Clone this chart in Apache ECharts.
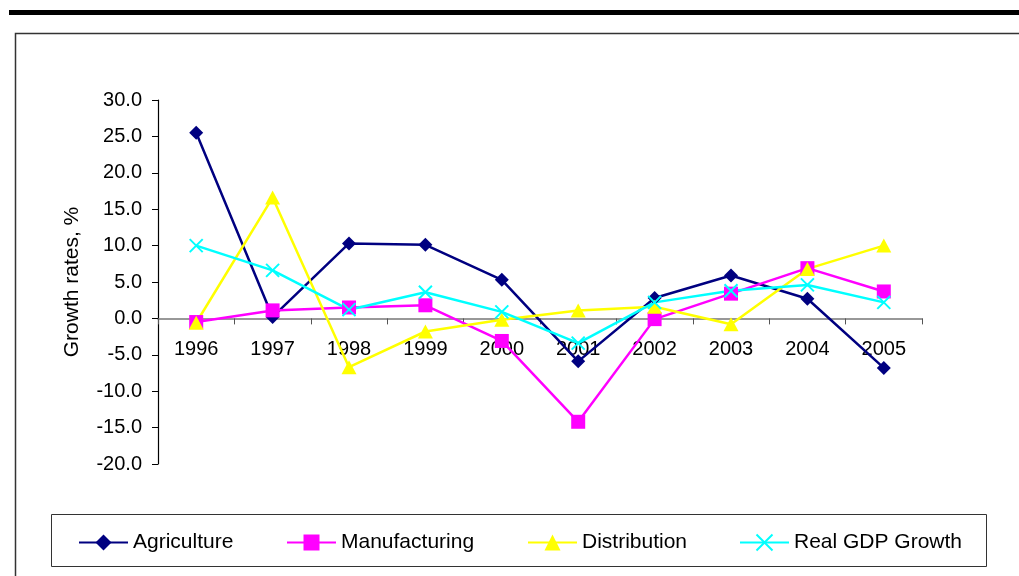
<!DOCTYPE html>
<html>
<head>
<meta charset="utf-8">
<title>Growth rates</title>
<script src="https://cdn.jsdelivr.net/npm/echarts@6/dist/echarts.min.js"></script>
<style>
  html, body { margin: 0; padding: 0; background: #fff; }
  #chart { width: 1019px; height: 576px; }
</style>
</head>
<body>
<div id="chart"></div>
<script>
var years = ['1996', '1997', '1998', '1999', '2000', '2001', '2002', '2003', '2004', '2005']
var agriculture = [25.5, 0.2, 10.3, 10.1, 5.3, -5.9, 2.8, 5.9, 2.7, -6.8]
var manufacturing = [-0.5, 1.1, 1.5, 1.8, -3.1, -14.2, -0.1, 3.4, 6.9, 3.7]
var distribution = [-0.6, 16.6, -6.7, -1.8, -0.2, 1.1, 1.6, -0.8, 6.8, 10.0]
var realGdp = [10.0, 6.6, 1.2, 3.6, 0.9, -3.4, 2.2, 3.8, 4.6, 2.2]

var FONT = "'Liberation Sans', Arial, sans-serif"
var crossPath = 'path://M0,0L10,10M0,10L10,0'

var gridTop = 100
var gridBottom = 112
var plotH = 576 - gridTop - gridBottom
// x axis sits on the zero line, labels included
var zeroOffset = -(plotH * 20 / 50)

var chart = echarts.init(document.getElementById('chart'))

function legendAt(name, left) {
  return {
    data: [name],
    left: left,
    top: 532,
    padding: 0,
    itemWidth: 49,
    itemHeight: 20,
    textStyle: { fontFamily: FONT, fontSize: 21, color: '#000' },
    selectedMode: false
  }
}

chart.setOption({
  animation: false,
  backgroundColor: '#fff',
  graphic: [
    // thick rule at the top
    { type: 'rect', shape: { x: 9, y: 10, width: 1012, height: 5 }, style: { fill: '#000' } },
    // chart frame
    { type: 'rect', shape: { x: 15.5, y: 33.5, width: 1010, height: 600 }, style: { fill: null, stroke: '#333', lineWidth: 1.5 } },
    // legend frame
    { type: 'rect', shape: { x: 51.5, y: 514.5, width: 935, height: 52 }, style: { fill: null, stroke: '#333', lineWidth: 1 } }
  ],
  grid: {
    left: 158,
    right: 97,
    top: gridTop,
    bottom: gridBottom
  },
  legend: [
    legendAt('Agriculture', 78),
    legendAt('Manufacturing', 286),
    legendAt('Distribution', 527),
    legendAt('Real GDP Growth', 739)
  ],
  xAxis: {
    type: 'category',
    data: years,
    boundaryGap: true,
    offset: zeroOffset,
    axisLine: { onZero: false, lineStyle: { color: '#777', width: 1.5 } },
    axisTick: { show: true, length: 6, lineStyle: { color: '#555' } },
    axisLabel: { fontFamily: FONT, fontSize: 20, color: '#000', margin: 21 },
    splitLine: { show: false }
  },
  yAxis: {
    type: 'value',
    min: -20,
    max: 30,
    interval: 5,
    name: 'Growth rates, %',
    nameLocation: 'middle',
    nameGap: 75,
    nameTextStyle: { fontFamily: FONT, fontSize: 21, color: '#000' },
    axisLine: { show: true, lineStyle: { color: '#000', width: 1.2 } },
    axisTick: { show: true, length: 6, lineStyle: { color: '#000' } },
    axisLabel: {
      fontFamily: FONT,
      fontSize: 20,
      color: '#000',
      margin: 16,
      formatter: function (v) {
        return v.toFixed(1)
      }
    },
    splitLine: { show: false }
  },
  series: [
    {
      name: 'Agriculture',
      type: 'line',
      data: agriculture,
      symbol: 'diamond',
      symbolSize: 14,
      lineStyle: { color: '#000080', width: 2.5 },
      itemStyle: { color: '#000080', borderWidth: 0 }
    },
    {
      name: 'Manufacturing',
      type: 'line',
      data: manufacturing,
      symbol: 'rect',
      symbolSize: 14,
      lineStyle: { color: '#FF00FF', width: 2.5 },
      itemStyle: { color: '#FF00FF', borderWidth: 0 }
    },
    {
      name: 'Distribution',
      type: 'line',
      data: distribution,
      symbol: 'triangle',
      symbolSize: [15, 14],
      lineStyle: { color: '#FFFF00', width: 2.5 },
      itemStyle: { color: '#FFFF00', borderWidth: 0 }
    },
    {
      name: 'Real GDP Growth',
      type: 'line',
      data: realGdp,
      symbol: crossPath,
      symbolSize: 13,
      lineStyle: { color: '#00FFFF', width: 2.5 },
      itemStyle: { color: '#00FFFF', borderColor: '#00FFFF', borderWidth: 2 }
    }
  ]
})
</script>
</body>
</html>
